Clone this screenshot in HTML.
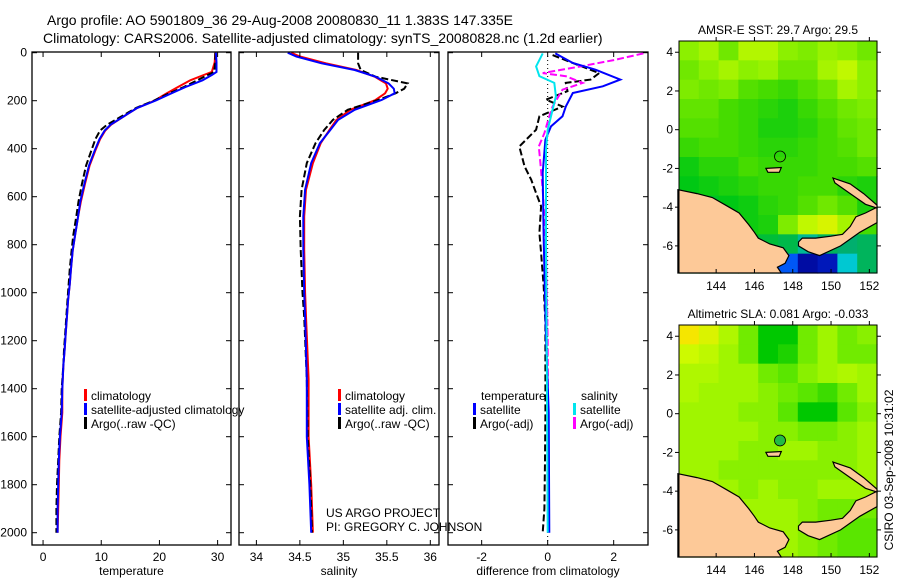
<!DOCTYPE html>
<html><head><meta charset="utf-8"><style>
body{margin:0;background:#fff}
svg{display:block;font-family:"Liberation Sans",sans-serif}
</style></head><body>
<svg id="fig" width="900" height="580" viewBox="0 0 900 580" xmlns="http://www.w3.org/2000/svg">
<rect width="900" height="580" fill="#fff"/>
<text x="47" y="25" font-size="14">Argo profile: AO 5901809_36 29-Aug-2008 20080830_11 1.383S 147.335E</text>
<text x="43" y="43" font-size="14">Climatology: CARS2006. Satellite-adjusted climatology: synTS_20080828.nc (1.2d earlier)</text>
<text transform="translate(893,470) rotate(-90)" text-anchor="middle" font-size="12">CSIRO 03-Sep-2008 10:31:02</text>
<g id="plots"></g>
</svg>
<script>
// ---- Temperature profile data ----
const tDepth=[0,40,80,93,115,143,170,199,230,268,300,324,360,407,470,546,620,685,760,824,900,963,1030,1102,1170,1240,1300,1400,1500,1600,1700,1800,1900,2000];
const tClim=[29.6,29.5,29.0,27.6,25.3,23.2,21.2,19.2,16.2,13.7,11.7,10.7,9.8,9.0,8.0,7.2,6.5,6.0,5.5,5.1,4.8,4.6,4.3,4.1,3.9,3.7,3.5,3.3,3.3,3.0,2.8,2.7,2.6,2.5];
const tSat=[29.7,29.8,29.8,29.0,27.4,24.5,22.0,19.4,16.2,13.7,11.6,10.6,9.7,8.9,7.9,7.1,6.4,6.0,5.5,5.1,4.8,4.6,4.3,4.1,3.9,3.7,3.5,3.3,3.2,2.9,2.7,2.6,2.5,2.5];
const tArgo=[29.6,29.6,29.4,28.3,26.5,24.2,21.6,19.1,16.0,13.3,11.0,9.8,9.0,8.3,7.4,6.7,6.1,5.7,5.2,4.9,4.6,4.4,4.2,4.0,3.8,3.6,3.5,3.2,3.1,2.8,2.6,2.4,2.3,2.3];
// ---- Salinity profile data ----
const sDepth=[0,16,44,72,100,128,150,169,197,238,280,322,377,460,571,682,821,1000,1100,1360,1600,1800,2000];
const sClim=[34.40,34.50,34.80,35.15,35.36,35.49,35.51,35.48,35.37,35.08,34.92,34.84,34.74,34.65,34.57,34.55,34.55,34.56,34.57,34.60,34.60,34.63,34.65];
const sSat=[34.36,34.46,34.75,35.13,35.37,35.52,35.58,35.59,35.44,35.13,34.94,34.85,34.73,34.63,34.56,34.54,34.54,34.55,34.56,34.58,34.58,34.61,34.63];
const sArgo=[35.17,35.17,35.17,35.20,35.37,35.74,35.70,35.60,35.40,35.05,34.88,34.78,34.68,34.58,34.52,34.50,34.51,34.53,34.55,34.58,34.59,34.62,34.64];
// ---- Differences from climatology ----
const dTsatDepth=[3,43,71,112,140,168,224,265,307,363,501,779,1188,1500,2000];
const dTsat=[0.23,0.76,1.45,2.2,1.67,0.76,0.55,0.45,0.1,-0.07,-0.15,-0.12,-0.05,0.03,0.05];
const dSsatDepth=[3,57,98,126,182,238,321,404,800,1200,2000];
const dSsat=[-0.15,-0.35,-0.25,0.2,0.25,0.15,0,-0.05,-0.05,-0.03,0.0];
const dTargoDepth=[10,43,85,112,126,160,196,224,265,321,391,474,529,585,640,751,835,974,1126,1500,1700,1900,2000];
const dTargo=[0.15,0.76,1.56,1.3,0.55,0.6,-0.05,0.45,-0.25,-0.35,-0.86,-0.7,-0.5,-0.35,-0.2,-0.25,-0.2,-0.12,-0.07,-0.07,-0.08,-0.1,-0.15];
const dSargoDepth=[3,31,57,85,98,126,154,224,265,335,391,460,572,800,1200,2000];
const dSargo=[2.9,2.0,1.0,-0.15,0.55,1.06,0.45,0.15,0.05,-0.1,-0.27,-0.22,-0.15,-0.05,0.0,0.02];
// ---- tick labels ----
const depthTicks=[0,200,400,600,800,1000,1200,1400,1600,1800,2000];
const tTicks=[0,10,20,30];
const sTicks=[34,34.5,35,35.5,36];
const dTicks=[-2,0,2];
const lonTicks=[144,146,148,150,152];
const latTicks=[4,2,0,-2,-4,-6];
// ---- Map grids (rows north->south, cols west->east) ----
const sstGrid=[
[30.0,30.2,29.8,30.3,30.3,30.0,29.9,30.1,30.0,29.8],
[29.8,30.0,30.2,30.0,30.1,29.8,29.8,30.2,30.4,30.0],
[29.9,29.8,29.9,29.6,29.5,29.4,29.6,29.8,30.2,30.0],
[29.7,29.7,29.5,29.4,29.3,29.2,29.4,29.6,29.8,29.9],
[29.6,29.6,29.5,29.4,29.2,29.2,29.3,29.5,29.7,29.8],
[29.4,29.5,29.5,29.4,29.3,29.3,29.4,29.5,29.6,29.8],
[29.1,29.3,29.3,29.5,29.4,29.4,29.4,29.5,29.5,29.6],
[29.0,29.1,29.2,29.3,29.4,29.4,29.5,29.5,29.3,29.2],
[28.9,28.9,29.0,29.1,29.3,29.4,29.6,29.8,29.6,29.2],
[29.0,29.0,29.0,29.1,29.2,29.9,30.4,30.6,30.2,29.5],
[29.0,29.0,29.0,29.0,28.8,28.7,28.3,28.6,28.5,28.6],
[29.0,29.0,29.0,29.0,28.6,27.6,27.1,27.2,28.0,28.6]];
const slaGrid=[
[0.18,0.16,0.13,0.10,0.06,0.06,0.10,0.12,0.10,0.11],
[0.15,0.14,0.12,0.10,0.06,0.07,0.10,0.12,0.10,0.10],
[0.13,0.13,0.12,0.12,0.10,0.09,0.11,0.12,0.13,0.12],
[0.13,0.12,0.12,0.12,0.11,0.10,0.09,0.08,0.10,0.12],
[0.12,0.12,0.12,0.11,0.11,0.09,0.06,0.06,0.09,0.11],
[0.12,0.12,0.12,0.12,0.11,0.11,0.10,0.10,0.11,0.12],
[0.12,0.12,0.12,0.11,0.11,0.12,0.12,0.11,0.11,0.12],
[0.12,0.12,0.11,0.11,0.11,0.11,0.11,0.11,0.11,0.12],
[0.12,0.12,0.12,0.11,0.12,0.11,0.11,0.12,0.12,0.12],
[0.12,0.12,0.13,0.12,0.12,0.12,0.11,0.10,0.10,0.10],
[0.13,0.13,0.13,0.13,0.12,0.12,0.11,0.10,0.09,0.09],
[0.14,0.14,0.14,0.14,0.13,0.12,0.11,0.10,0.09,0.09]];
const argoLon=147.335, argoLat=-1.383;

const NS='http://www.w3.org/2000/svg';
const root=document.getElementById('plots');
function mk(tag,attrs,parent){const e=document.createElementNS(NS,tag);for(const k in attrs)e.setAttribute(k,attrs[k]);(parent||root).appendChild(e);return e;}
const yD=d=>52.7+d*0.24;
const panels=[
 {x0:32,x1:231,v0:-1.9,v1:32.3,name:'temperature'},
 {x0:239,x1:439,v0:33.8,v1:36.1,name:'salinity'},
 {x0:448,x1:648,v0:-3.02,v1:3.04,name:'difference'}];
function xS(p,v){return p.x0+(v-p.v0)/(p.v1-p.v0)*(p.x1-p.x0);}
const defs=mk('defs',{});
panels.forEach((p,i)=>{const c=mk('clipPath',{id:'clip'+i},defs);mk('rect',{x:p.x0,y:52,width:p.x1-p.x0,height:493},c);});

function line(p,pi,depths,vals,color,dash,name,w){
  const pts=depths.map((d,i)=>xS(p,vals[i]).toFixed(1)+','+yD(d).toFixed(1)).join(' ');
  const e=mk('polyline',{points:pts,fill:'none',stroke:color,'stroke-width':w||2,'clip-path':'url(#clip'+pi+')'});
  if(dash)e.setAttribute('stroke-dasharray',dash);
  
  
}
function frame(p,ticks,labels,title,pi){
  const g=mk('g',{});
  
  
  mk('rect',{x:p.x0,y:52,width:p.x1-p.x0,height:493,fill:'none',stroke:'#000','stroke-width':1.3},g);
  depthTicks.forEach(d=>{const y=yD(d);
    mk('line',{x1:p.x0,x2:p.x0+5,y1:y,y2:y,stroke:'#000'},g);
    mk('line',{x1:p.x1-5,x2:p.x1,y1:y,y2:y,stroke:'#000'},g);
    if(pi===0){const t=mk('text',{x:27,y:y+4,'text-anchor':'end','font-size':12},g);t.textContent=d;
      
      }
  });
  ticks.forEach((v,i)=>{const x=xS(p,v);
    mk('line',{x1:x,x2:x,y1:52,y2:57,stroke:'#000'},g);
    mk('line',{x1:x,x2:x,y1:540,y2:545,stroke:'#000'},g);
    const t=mk('text',{x:x,y:561,'text-anchor':'middle','font-size':12},g);t.textContent=labels[i];
    
    
  });
  const tt=mk('text',{x:(p.x0+p.x1)/2,y:575,'text-anchor':'middle','font-size':12},g);tt.textContent=title;
  
  
}
function legend(x,y,color,label){
  mk('rect',{x:x,y:y-9,width:3,height:12,fill:color});
  const t=mk('text',{x:x+7,y:y+2,'font-size':12});t.textContent=label;
  
  
}
const P=panels;
line(P[0],0,tDepth,tClim,'#ff0000',null,'temp-climatology-line');
line(P[0],0,tDepth,tArgo,'#000',"7,3",'temp-argo-line');
line(P[0],0,tDepth,tSat,'#0000ff',null,'temp-satellite-line');
frame(P[0],tTicks,tTicks.map(String),'temperature',0);
legend(84,398,'#ff0000','climatology');
legend(84,412,'#0000ff','satellite-adjusted climatology');
legend(84,426,'#000','Argo(..raw -QC)');
line(P[1],1,sDepth,sClim,'#ff0000',null,'sal-climatology-line');
line(P[1],1,sDepth,sArgo,'#000',"7,3",'sal-argo-line');
line(P[1],1,sDepth,sSat,'#0000ff',null,'sal-satellite-line');
frame(P[1],sTicks,sTicks.map(String),'salinity',1);
legend(338,398,'#ff0000','climatology');
legend(338,412,'#0000ff','satellite adj. clim.');
legend(338,426,'#000','Argo(..raw -QC)');
mk('line',{x1:xS(P[2],0),x2:xS(P[2],0),y1:52,y2:545,stroke:'#000','stroke-dasharray':'1,3'});
line(P[2],2,dTargoDepth,dTargo,'#000',"7,3",'temp-argo-diff-line');
line(P[2],2,dSargoDepth,dSargo,'#ff00ff',"7,3",'sal-argo-diff-line');
line(P[2],2,dTsatDepth,dTsat,'#0000ff',null,'temp-satellite-diff-line');
line(P[2],2,dSsatDepth,dSsat,'#00e5ee',null,'sal-satellite-diff-line');
frame(P[2],dTicks,dTicks.map(String),'difference from climatology',2);
const lh=mk('text',{x:481,y:400,'font-size':12});lh.textContent='temperature';


const sh=mk('text',{x:581,y:400,'font-size':12});sh.textContent='salinity';


legend(473,412,'#0000ff','satellite');
legend(473,426,'#000','Argo(-adj)');
legend(573,412,'#00e5ee','satellite');
legend(573,426,'#ff00ff','Argo(-adj)');
const c1=mk('text',{x:326,y:517,'font-size':12});c1.textContent='US ARGO PROJECT';


const c2=mk('text',{x:326,y:531,'font-size':12});c2.textContent='PI: GREGORY C. JOHNSON';



// ---- Maps ----
function lerpStops(stops,v){
  if(v<=stops[0][0])return stops[0][1];
  for(let i=1;i<stops.length;i++){if(v<=stops[i][0]){const a=stops[i-1],b=stops[i];const t=(v-a[0])/(b[0]-a[0]);
    return a[1].map((c,j)=>Math.round(c+(b[1][j]-c)*t));}}
  return stops[stops.length-1][1];
}
const sstStops=[[27.0,[0,0,140]],[27.5,[0,60,255]],[28.0,[0,200,210]],[28.5,[0,175,110]],[29.0,[0,200,20]],[29.5,[70,220,0]],[30.0,[140,240,0]],[30.5,[205,250,0]],[31,[255,220,0]]];
const slaStops=[[0.06,[0,200,0]],[0.09,[90,230,0]],[0.12,[160,245,0]],[0.15,[205,250,0]],[0.18,[245,230,0]]];
const land=[
 [[142.0,-3.1],[143.0,-3.3],[143.8,-3.5],[144.5,-3.9],[145.2,-4.3],[145.7,-4.9],[146.0,-5.3],[146.2,-5.6],[146.8,-5.9],[147.5,-6.1],[147.8,-6.5],[147.6,-6.9],[147.2,-7.1],[147.4,-7.4],[142.0,-7.4]],
 [[148.3,-5.8],[148.5,-5.6],[149.2,-5.6],[150.0,-5.5],[150.6,-5.4],[151.0,-5.0],[151.3,-4.5],[151.8,-4.3],[152.4,-4.0],[152.4,-4.8],[151.5,-5.3],[150.5,-6.0],[149.4,-6.5],[148.8,-6.3],[148.3,-6.0]],
 [[150.1,-2.5],[151.0,-2.8],[151.7,-3.3],[152.4,-3.9],[152.4,-4.05],[151.8,-3.85],[151.0,-3.3],[150.2,-2.75]],
 [[146.6,-2.0],[147.4,-1.95],[147.3,-2.2],[146.7,-2.2]]];
function drawMap(top,grid,stops,title,name,filled){
  const x0=679,x1=877,y0=top,y1=top+232,lon0=142.06,lon1=152.4,lat0=4.58,lat1=-7.4;
  const xL=l=>x0+(l-lon0)/(lon1-lon0)*(x1-x0);
  const yL=l=>y0+(l-lat0)/(lat1-lat0)*(y1-y0);
  const g=mk('g',{});
  
  
  const rows=grid.length,cols=grid[0].length;
  const cw=(x1-x0)/cols,ch=(y1-y0)/rows;
  grid.forEach((row,r)=>row.forEach((v,c)=>{
    const cell=mk('rect',{x:(x0+c*cw).toFixed(2),y:(y0+r*ch).toFixed(2),width:(cw+0.6).toFixed(2),height:(ch+0.6).toFixed(2),fill:'rgb('+lerpStops(stops,v).join(',')+')'},g);
    
    
  }));
  land.forEach(poly=>{
    const lp=mk('polygon',{points:poly.map(q=>xL(q[0]).toFixed(1)+','+yL(q[1]).toFixed(1)).join(' '),fill:'#fdc998',stroke:'#000','stroke-width':1.2},g);
    
    
  });
  const m=mk('circle',{cx:xL(argoLon),cy:yL(argoLat),r:5.5,fill:filled?'#22bb44':'none',stroke:'#000','stroke-width':0.8},g);
  
  
  mk('rect',{x:x0,y:y0,width:x1-x0,height:y1-y0,fill:'none',stroke:'#000','stroke-width':1},g);
  lonTicks.forEach(l=>{const x=xL(l);
    mk('line',{x1:x,x2:x,y1:y1,y2:y1-4,stroke:'#000'},g);mk('line',{x1:x,x2:x,y1:y0,y2:y0-4,stroke:'#000'},g);
    const t=mk('text',{x:x,y:y1+17,'text-anchor':'middle','font-size':12},g);t.textContent=l;
    
    });
  latTicks.forEach(l=>{const y=yL(l);
    mk('line',{x1:x0,x2:x0-4,y1:y,y2:y,stroke:'#000'},g);mk('line',{x1:x1,x2:x1+4,y1:y,y2:y,stroke:'#000'},g);
    const t=mk('text',{x:673,y:y+4,'text-anchor':'end','font-size':12},g);t.textContent=l;
    
    });
  const tt=mk('text',{x:(x0+x1)/2,y:y0-7,'text-anchor':'middle','font-size':12},g);tt.textContent=title;
  
  
}
drawMap(41,sstGrid,sstStops,'AMSR-E SST: 29.7 Argo: 29.5','sst-map',false);
drawMap(325,slaGrid,slaStops,'Altimetric SLA: 0.081  Argo: -0.033','sla-map',true);
</script>
</body></html>
